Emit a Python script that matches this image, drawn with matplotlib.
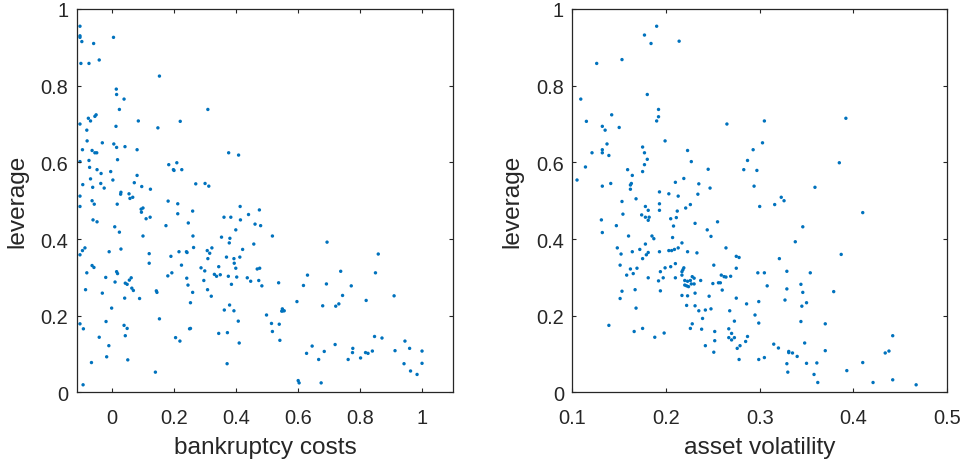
import matplotlib
matplotlib.use('Agg')
import matplotlib.pyplot as plt

plt.rcParams['font.family'] = ['Liberation Sans', 'DejaVu Sans']

# left panel: bankruptcy costs vs leverage
bankruptcy_costs = [
    -0.102, -0.102, -0.102, -0.096, -0.058, 0.006, -0.099, -0.073, -0.040, 0.154,
    0.015, 0.016, 0.040, 0.025, 0.310, -0.102, -0.075, -0.068, -0.054, -0.050,
    0.014, 0.086, 0.149, 0.221, -0.080, -0.079, -0.030, -0.094, -0.063, -0.054,
    -0.048, 0.007, 0.016, 0.043, 0.082, 0.019, -0.102, -0.073, 0.377, 0.409,
    -0.071, -0.047, -0.034, -0.003, 0.184, 0.210, 0.199, 0.201, 0.226, 0.082,
    -0.068, -0.093, -0.061, -0.035, -0.024, 0.004, 0.073, 0.097, 0.125, 0.271,
    0.301, 0.313, 0.030, 0.029, 0.056, 0.068, 0.059, -0.102,
    -0.102, -0.063, -0.056, 0.018, 0.182, 0.213, 0.261, 0.213, 0.095, 0.101,
    0.096, 0.111, 0.124, -0.060, -0.047, 0.010, 0.025, 0.101, 0.175, 0.247,
    0.262, 0.362, 0.384, 0.414, 0.441, 0.476, 0.415, 0.400, 0.462, 0.480,
    0.354, 0.381, 0.379, 0.458, 0.422, -0.102, -0.094, -0.086, -0.008, 0.030,
    0.121, 0.191, 0.217, 0.241, 0.243, 0.264, 0.308, 0.323, 0.316, 0.310,
    0.370, 0.394, 0.413, -0.063, -0.057, -0.080, 0.016, 0.019, 0.121, 0.225,
    0.288, 0.300, 0.345, 0.395, 0.400, 0.469, 0.477, -0.019, 0.011, 0.044,
    0.050, 0.057, 0.063, 0.065, 0.070, 0.090, 0.042, -0.084, -0.030, 0.144,
    0.146, 0.181, 0.194, 0.242, 0.246, 0.261, 0.254, 0.297, 0.309, 0.321,
    0.331, 0.338, 0.350, 0.376, 0.403, 0.437, 0.448, 0.474, 0.484, 0.386,
    0.000, 0.380, 0.363, 0.394, 0.499, -0.102, -0.091, -0.018, 0.040, 0.050,
    0.044, 0.154, -0.040, -0.009, 0.206, 0.220, 0.251, 0.254, 0.345, 0.373,
    0.408, 0.411, -0.016, -0.065, 0.052, 0.141, 0.372, -0.092,
    0.518, 0.694, 0.859, 0.738, 0.850, 0.631, 0.538, 0.618, 0.692, 0.772,
    0.744, 0.910, 0.820, 0.597, 0.680, 0.722, 0.732, 0.550, 0.552, 0.548,
    0.556, 0.515, 0.540, 0.518, 0.542, 0.847, 0.871, 0.945, 0.960, 1.000,
    0.913, 0.720, 0.646, 0.628, 0.685, 0.777, 0.776, 0.818, 0.826, 0.840,
    0.667, 0.762, 0.802, 0.942, 1.000, 0.963, 0.984, 0.601, 0.604, 0.675,
]
leverage_bc = [
    0.955, 0.930, 0.926, 0.915, 0.910, 0.926, 0.858, 0.858, 0.867, 0.825,
    0.791, 0.777, 0.765, 0.738, 0.738, 0.700, 0.715, 0.708, 0.720, 0.724,
    0.694, 0.708, 0.690, 0.707, 0.684, 0.656, 0.651, 0.633, 0.631, 0.625,
    0.625, 0.648, 0.639, 0.641, 0.633, 0.607, 0.602, 0.605, 0.625, 0.619,
    0.587, 0.581, 0.571, 0.576, 0.594, 0.599, 0.581, 0.579, 0.581, 0.566,
    0.557, 0.542, 0.535, 0.545, 0.533, 0.554, 0.547, 0.537, 0.530, 0.544,
    0.545, 0.538, 0.522, 0.517, 0.518, 0.509, 0.506, 0.512,
    0.485, 0.500, 0.491, 0.491, 0.499, 0.492, 0.473, 0.466, 0.478, 0.481,
    0.470, 0.453, 0.457, 0.450, 0.445, 0.432, 0.418, 0.408, 0.435, 0.442,
    0.408, 0.457, 0.457, 0.485, 0.464, 0.476, 0.450, 0.424, 0.439, 0.435,
    0.405, 0.402, 0.390, 0.387, 0.373, 0.359, 0.370, 0.377, 0.367, 0.374,
    0.362, 0.355, 0.367, 0.367, 0.365, 0.378, 0.370, 0.377, 0.363, 0.349,
    0.353, 0.349, 0.353, 0.331, 0.326, 0.312, 0.315, 0.310, 0.337, 0.332,
    0.325, 0.317, 0.328, 0.337, 0.324, 0.322, 0.324, 0.300, 0.288, 0.285,
    0.282, 0.293, 0.299, 0.272, 0.266, 0.245, 0.246, 0.268, 0.259, 0.265,
    0.261, 0.304, 0.312, 0.298, 0.280, 0.261, 0.234, 0.292, 0.268, 0.251,
    0.308, 0.303, 0.307, 0.303, 0.301, 0.299, 0.290, 0.292, 0.278, 0.282,
    0.220, 0.228, 0.215, 0.213, 0.202, 0.179, 0.166, 0.185, 0.175, 0.167,
    0.148, 0.192, 0.144, 0.122, 0.143, 0.134, 0.166, 0.167, 0.154, 0.156,
    0.186, 0.129, 0.093, 0.078, 0.085, 0.053, 0.075, 0.020,
    0.408, 0.392, 0.361, 0.316, 0.312, 0.306, 0.286, 0.279, 0.283, 0.278,
    0.253, 0.252, 0.240, 0.237, 0.226, 0.225, 0.231, 0.218, 0.213, 0.212,
    0.213, 0.180, 0.178, 0.159, 0.136, 0.146, 0.142, 0.134, 0.115, 0.108,
    0.109, 0.125, 0.121, 0.102, 0.107, 0.115, 0.104, 0.104, 0.102, 0.108,
    0.086, 0.086, 0.090, 0.075, 0.076, 0.056, 0.047, 0.031, 0.025, 0.025,
]

# right panel: asset volatility vs leverage
asset_volatility = [
    0.190, 0.177, 0.184, 0.214, 0.126, 0.153, 0.180, 0.109, 0.192, 0.192,
    0.190, 0.142, 0.115, 0.132, 0.135, 0.150, 0.265, 0.199, 0.137, 0.121,
    0.132, 0.132, 0.139, 0.175, 0.177, 0.180, 0.177, 0.175, 0.223, 0.227,
    0.245, 0.283, 0.287, 0.293, 0.297, 0.114, 0.159, 0.164, 0.105, 0.132,
    0.141, 0.162, 0.163, 0.162, 0.168, 0.193, 0.203, 0.213, 0.210, 0.219,
    0.235, 0.234, 0.247, 0.294,
    0.153, 0.178, 0.181, 0.193, 0.193, 0.212, 0.221, 0.226, 0.131, 0.132,
    0.147, 0.154, 0.174, 0.178, 0.182, 0.181, 0.205, 0.211, 0.208, 0.231,
    0.255, 0.244, 0.248, 0.160, 0.185, 0.187, 0.207, 0.217, 0.178, 0.213,
    0.148, 0.152, 0.164, 0.172, 0.175, 0.179, 0.181, 0.193, 0.203, 0.206,
    0.209, 0.223, 0.233, 0.264, 0.275, 0.278, 0.298, 0.151, 0.158, 0.162,
    0.165, 0.169, 0.181, 0.194, 0.199, 0.205, 0.210, 0.217, 0.217, 0.218,
    0.219, 0.197, 0.192, 0.194, 0.210, 0.220, 0.223, 0.226, 0.228, 0.230,
    0.237, 0.220, 0.222, 0.224, 0.227, 0.230, 0.250, 0.251, 0.256, 0.258,
    0.259, 0.262, 0.264, 0.269, 0.275, 0.260, 0.167, 0.153, 0.151, 0.217,
    0.223, 0.231, 0.275, 0.246, 0.168, 0.222, 0.231, 0.235, 0.242, 0.248,
    0.268, 0.286, 0.299, 0.295, 0.299, 0.139, 0.166, 0.175, 0.188, 0.198,
    0.226, 0.228, 0.238, 0.239, 0.252, 0.273, 0.267, 0.267, 0.270, 0.270,
    0.273, 0.287, 0.285, 0.279, 0.276, 0.252, 0.242, 0.251, 0.278, 0.299,
    0.305, 0.392, 0.303, 0.385, 0.359, 0.323, 0.326, 0.316, 0.300, 0.410,
    0.346, 0.338, 0.387, 0.321, 0.305, 0.329, 0.354, 0.308, 0.344, 0.329,
    0.346, 0.379, 0.327, 0.345, 0.350, 0.344, 0.370, 0.348, 0.315, 0.320,
    0.331, 0.331, 0.335, 0.340, 0.370, 0.305, 0.329, 0.350, 0.361, 0.330,
    0.358, 0.362, 0.393, 0.410, 0.421, 0.434, 0.438, 0.442, 0.442, 0.467,
]
leverage_av = [
    0.955, 0.932, 0.910, 0.916, 0.858, 0.868, 0.777, 0.765, 0.738, 0.719,
    0.708, 0.724, 0.707, 0.694, 0.684, 0.691, 0.700, 0.656, 0.648, 0.625,
    0.633, 0.625, 0.618, 0.640, 0.625, 0.608, 0.594, 0.576, 0.631, 0.602,
    0.582, 0.581, 0.605, 0.633, 0.579, 0.588, 0.581, 0.566, 0.554, 0.538,
    0.545, 0.541, 0.545, 0.530, 0.505, 0.523, 0.518, 0.512, 0.548, 0.558,
    0.544, 0.517, 0.533, 0.538,
    0.498, 0.485, 0.475, 0.492, 0.475, 0.473, 0.481, 0.490, 0.450, 0.417,
    0.435, 0.465, 0.463, 0.457, 0.457, 0.449, 0.453, 0.456, 0.434, 0.441,
    0.445, 0.424, 0.407, 0.408, 0.408, 0.401, 0.404, 0.390, 0.387, 0.377,
    0.377, 0.361, 0.367, 0.373, 0.349, 0.359, 0.365, 0.367, 0.370, 0.370,
    0.373, 0.367, 0.364, 0.377, 0.355, 0.352, 0.312, 0.332, 0.306, 0.322,
    0.310, 0.324, 0.299, 0.315, 0.325, 0.328, 0.336, 0.306, 0.315, 0.320,
    0.325, 0.299, 0.291, 0.265, 0.299, 0.292, 0.290, 0.292, 0.302, 0.298,
    0.292, 0.280, 0.278, 0.276, 0.283, 0.283, 0.284, 0.332, 0.286, 0.286,
    0.306, 0.302, 0.301, 0.303, 0.324, 0.267, 0.268, 0.264, 0.245, 0.253,
    0.252, 0.259, 0.246, 0.251, 0.220, 0.227, 0.226, 0.213, 0.215, 0.218,
    0.213, 0.231, 0.237, 0.202, 0.181, 0.175, 0.159, 0.167, 0.144, 0.155,
    0.167, 0.179, 0.165, 0.193, 0.159, 0.186, 0.166, 0.143, 0.154, 0.137,
    0.143, 0.146, 0.133, 0.122, 0.115, 0.135, 0.122, 0.105, 0.086, 0.086,
    0.708, 0.715, 0.651, 0.599, 0.535, 0.509, 0.500, 0.490, 0.485, 0.469,
    0.432, 0.393, 0.360, 0.349, 0.312, 0.316, 0.312, 0.278, 0.282, 0.270,
    0.261, 0.263, 0.241, 0.225, 0.234, 0.185, 0.179, 0.129, 0.126, 0.116,
    0.107, 0.104, 0.103, 0.094, 0.109, 0.091, 0.075, 0.076, 0.077, 0.053,
    0.047, 0.026, 0.057, 0.078, 0.026, 0.103, 0.108, 0.148, 0.033, 0.020,
]

ticks_bc = [0, 0.2, 0.4, 0.6, 0.8, 1]
ticks_av = [0.1, 0.2, 0.3, 0.4, 0.5]
ticks_lev = [0, 0.2, 0.4, 0.6, 0.8, 1]

dot_color = '#0072BD'
txt_color = '#262626'

fig = plt.figure(figsize=(9.65, 4.64), dpi=100)
ax1 = fig.add_axes([0.0795, 0.152, 0.390, 0.8265])
ax2 = fig.add_axes([0.5931, 0.152, 0.3883, 0.8265])


def style(ax, xticks, xlim, xlabel):
    ax.set_xlim(xlim)
    ax.set_ylim(0, 1)
    ax.set_xticks(xticks)
    ax.set_xticklabels(['%g' % t for t in xticks])
    ax.set_yticks(ticks_lev)
    ax.set_yticklabels(['%g' % t for t in ticks_lev])
    ax.tick_params(direction='in', length=3.2, width=0.8, color=txt_color,
                   top=True, right=True, labelsize=14.4, labelcolor=txt_color)
    ax.tick_params(axis='x', pad=11)
    ax.tick_params(axis='y', pad=6)
    for s in ax.spines.values():
        s.set_color(txt_color)
        s.set_linewidth(0.9)
    ax.set_xlabel(xlabel, fontsize=17.6, color=txt_color, labelpad=7)
    ax.set_ylabel('leverage', fontsize=17.6, color=txt_color, labelpad=9)


ax1.scatter(bankruptcy_costs, leverage_bc, s=6, color=dot_color, edgecolors='none')
style(ax1, ticks_bc, (-0.1125, 1.1), 'bankruptcy costs')

ax2.scatter(asset_volatility, leverage_av, s=6, color=dot_color, edgecolors='none')
style(ax2, ticks_av, (0.1, 0.5), 'asset volatility')

fig.savefig('out.png', dpi=100)
